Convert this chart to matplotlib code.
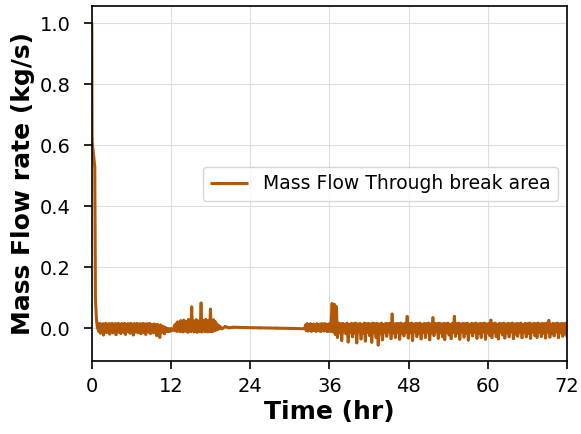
import numpy as np
import matplotlib
matplotlib.use("Agg")
import matplotlib.pyplot as plt
from matplotlib.collections import LineCollection

# blowdown at the start (hr, kg/s)
t_drop = [0.0, 0.04, 0.1, 0.3, 0.45, 0.55, 0.7, 0.85]
q_drop = [1.0, 0.62, 0.60, 0.56, 0.53, 0.10, 0.03, 0.0]

# oscillating flow 0.95 - 12.2 hr
t_osc1 = (0.95, 12.2)
q_osc1 = [0.013, -0.010, 0.015, -0.016, 0.012, -0.011, 0.014, -0.022, 0.013, -0.012,
          0.015, -0.014, 0.011, -0.010, 0.014, -0.019, 0.013, -0.011, 0.015, -0.015,
          0.012, -0.012, 0.014, -0.021, 0.013, -0.010, 0.015, -0.013, 0.011, -0.017,
          0.014, -0.011, 0.013, -0.014, 0.015, -0.020, 0.012, -0.010, 0.014, -0.012,
          0.013, -0.016, 0.015, -0.011, 0.012, -0.022, 0.014, -0.013, 0.013, -0.010,
          0.015, -0.015, 0.011, -0.012, 0.014, -0.018, 0.013, -0.011, 0.015, -0.014,
          0.012, -0.020, 0.014, -0.010, 0.013, -0.013, 0.015, -0.017, 0.011, -0.012,
          0.012, -0.015, 0.013, -0.011, 0.010, -0.024, 0.012, -0.013, 0.008, -0.030,
          0.010, -0.014, 0.006, -0.012, 0.004, -0.018, 0.002, -0.010, -0.001, -0.011,
          -0.002, -0.010, -0.003, -0.009, -0.002, -0.008]

# oscillating flow with spikes 12.4 - 19.4 hr
t_osc2 = (12.4, 19.4)
q_osc2 = [-0.004, 0.008, -0.008, 0.014, -0.010, 0.020, -0.006, 0.016, -0.011, 0.024,
          -0.009, 0.018, -0.012, 0.026, -0.008, 0.020, -0.010, 0.022, -0.013, 0.028,
          -0.009, 0.019, -0.011, 0.069, -0.008, 0.025, -0.012, 0.021, -0.010, 0.027,
          -0.013, 0.022, -0.009, 0.024, -0.011, 0.082, -0.012, 0.026, -0.008, 0.020,
          -0.011, 0.028, -0.010, 0.023, -0.012, 0.025, -0.009, 0.062, -0.011, 0.024,
          -0.010, 0.027, -0.008, 0.021, -0.006, 0.014, -0.004, 0.009, -0.002, 0.005]

# quiet period
t_flat = [19.7, 20.2, 20.8, 21.5, 23.0, 25.5, 28.0, 30.5, 32.2]
q_flat = [-0.002, 0.005, 0.001, 0.003, 0.002, 0.001, 0.0, -0.001, -0.002]

# oscillation restarts 32.4 - 36.2 hr
t_osc3 = (32.4, 36.2)
q_osc3 = [0.010, -0.008, 0.014, -0.009, 0.012, -0.006, 0.014, -0.010, 0.011, -0.007,
          0.013, -0.008, 0.012, -0.010, 0.014, -0.006, 0.012, -0.009, 0.013, -0.010,
          0.014, -0.007, 0.013, -0.009, 0.014, -0.008, 0.012, -0.011, 0.013, -0.009,
          0.014, -0.010]

# oscillating flow 36.4 - 72 hr
t_osc4 = (36.4, 72.0)
q_osc4 = [0.080, -0.012, 0.078, -0.020, 0.070, -0.030, 0.016, -0.015, 0.014, -0.040,
          0.015, -0.012, 0.013, -0.018, 0.016, -0.045, 0.012, -0.014, 0.015, -0.028,
          0.014, -0.016, 0.016, -0.048, 0.013, -0.012, 0.015, -0.035, 0.012, -0.017,
          0.016, -0.042, 0.014, -0.013, 0.015, -0.024, 0.013, -0.046, 0.016, -0.015,
          0.014, -0.030, 0.015, -0.055, 0.013, -0.018, 0.016, -0.038, 0.012, -0.014,
          0.015, -0.026, 0.014, -0.012, 0.016, -0.034, 0.046, -0.016, 0.013, -0.030,
          0.015, -0.013, 0.014, -0.036, 0.016, -0.017, 0.013, -0.025, 0.015, -0.014,
          0.038, -0.032, 0.014, -0.015, 0.016, -0.040, 0.013, -0.012, 0.015, -0.027,
          0.014, -0.018, 0.016, -0.035, 0.012, -0.014, 0.015, -0.030, 0.014, -0.013,
          0.016, -0.038, 0.013, -0.016, 0.034, -0.024, 0.015, -0.012, 0.014, -0.033,
          0.016, -0.015, 0.013, -0.028, 0.015, -0.037, 0.014, -0.013, 0.016, -0.022,
          0.012, -0.034, 0.015, -0.014, 0.038, -0.026, 0.014, -0.016, 0.016, -0.036,
          0.013, -0.012, 0.015, -0.029, 0.014, -0.017, 0.016, -0.039, 0.012, -0.014,
          0.015, -0.025, 0.014, -0.013, 0.016, -0.033, 0.013, -0.018, 0.015, -0.030,
          0.014, -0.012, 0.016, -0.036, 0.013, -0.015, 0.015, -0.024, 0.026, -0.031,
          0.014, -0.014, 0.016, -0.027, 0.012, -0.035, 0.015, -0.013, 0.014, -0.022,
          0.016, -0.032, 0.013, -0.016, 0.015, -0.028, 0.014, -0.012, 0.016, -0.034,
          0.013, -0.019, 0.015, -0.026, 0.014, -0.013, 0.016, -0.031, 0.012, -0.015,
          0.015, -0.028, 0.014, -0.017, 0.016, -0.033, 0.013, -0.012, 0.015, -0.024,
          0.014, -0.030, 0.016, -0.014, 0.013, -0.027, 0.015, -0.016, 0.014, -0.032,
          0.016, -0.013, 0.025, -0.029, 0.013, -0.018, 0.015, -0.025, 0.014, -0.012,
          0.016, -0.031, 0.013, -0.015, 0.015, -0.026, 0.014, -0.019, 0.016, -0.028]

x_ticks = [0, 12, 24, 36, 48, 60, 72]

# stitch the pieces together
t = list(t_drop)
q = list(q_drop)
for (t0, t1), vals in [(t_osc1, q_osc1), (t_osc2, q_osc2)]:
    t += list(np.linspace(t0, t1, len(vals)))
    q += vals
t += t_flat
q += q_flat
for (t0, t1), vals in [(t_osc3, q_osc3), (t_osc4, q_osc4)]:
    t += list(np.linspace(t0, t1, len(vals)))
    q += vals

pts = np.column_stack([t, q])
segs = np.stack([pts[:-1], pts[1:]], axis=1)

fig = plt.figure(figsize=(5.81, 4.34), dpi=100)
ax = fig.add_axes([0.158, 0.168, 0.818, 0.818])
# each step drawn as its own segment so the dense oscillation fills in solid
lc = LineCollection(segs, colors="#b35806", linewidths=2.2, capstyle="round",
                    label="Mass Flow Through break area")
ax.add_collection(lc)
ax.set_xlim(0, 72)
ax.set_ylim(-0.108, 1.056)
ax.set_xticks(x_ticks)
ax.set_xlabel("Time (hr)", fontsize=18, fontweight="bold", labelpad=3)
ax.set_ylabel("Mass Flow rate (kg/s)", fontsize=18, fontweight="bold", labelpad=3)
ax.tick_params(labelsize=14, width=1.2, length=5.5, pad=6)
ax.tick_params(axis="y", pad=10)
for s in ax.spines.values():
    s.set_linewidth(1.2)
ax.grid(True, color="#dddddd", linewidth=0.8)
ax.legend(loc="center right", fontsize=13.5)
fig.savefig("out.png", dpi=100)
